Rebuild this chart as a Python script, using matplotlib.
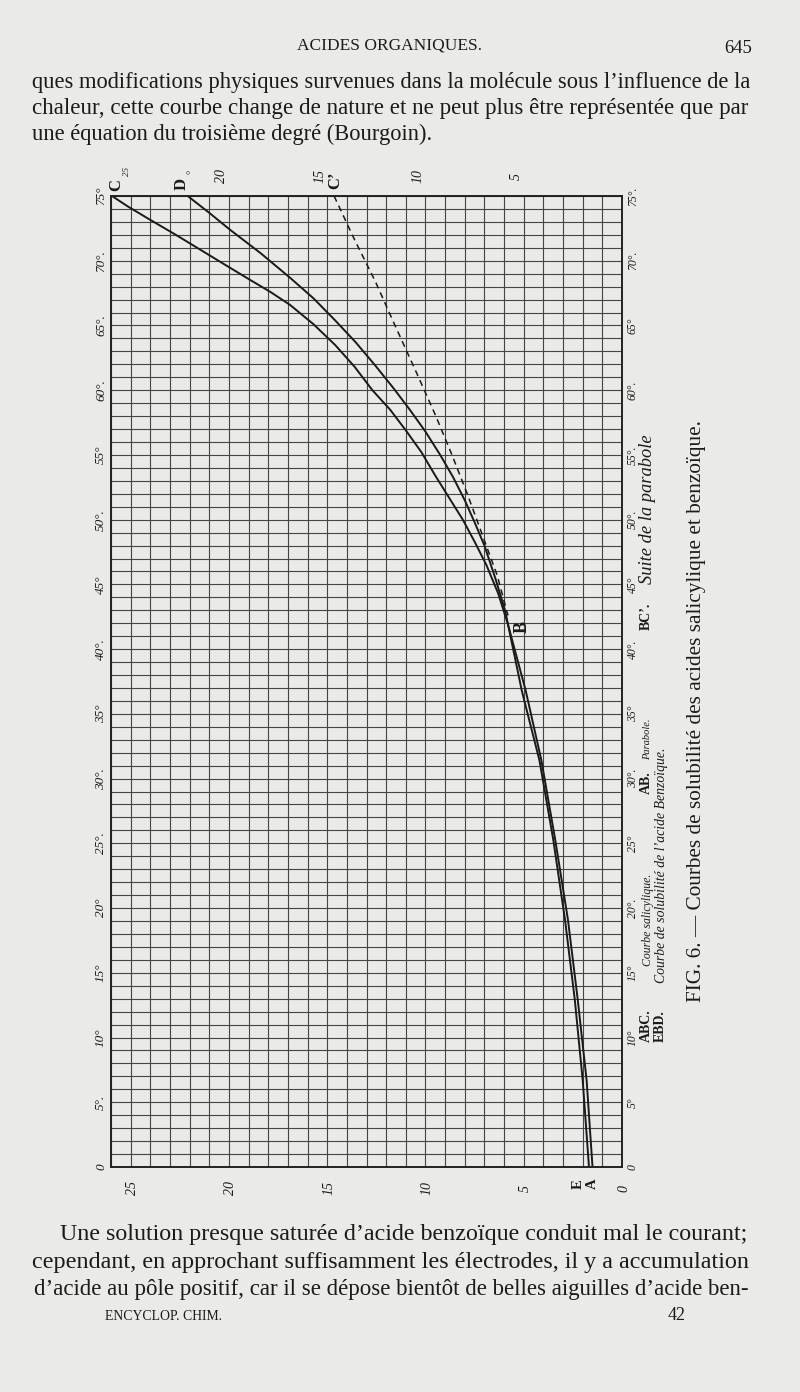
import numpy as np
import matplotlib
matplotlib.use("Agg")
import matplotlib.pyplot as plt
from matplotlib import transforms as mtransforms

# ---------------- data ----------------
temp_ticks = [0, 5, 10, 15, 20, 25, 30, 35, 40, 45, 50, 55, 60, 65, 70, 75]
temp_labels_left = ["0", "5°.", "10°", "15°", "20°", "25°.", "30°.", "35°", "40°.",
                    "45°", "50°.", "55°", "60°.", "65°.", "70°.", "75°"]
temp_labels_right = ["0", "5°", "10°", "15°", "20°.", "25°", "30°.", "35°", "40°.",
                     "45°", "50°.", "55°.", "60°.", "65°", "70°.", "75°."]
sol_ticks_bottom = [25, 20, 15, 10, 5, 0]
sol_labels_bottom = ["25", "20", "15", "10", "5", "0"]
sol_ticks_top = [20, 15, 10, 5]
sol_labels_top = ["20", "15", "10", "5"]

# ABC : salicylic acid curve (solubility, temperature °C)
abc_sol = [25.95, 25.15, 24.05, 22.7, 21.4, 20.1, 18.9, 17.9, 16.9, 15.7, 14.6, 13.6,
           12.7, 11.8, 11.0, 10.2, 9.5, 8.8, 8.1, 7.5, 6.9, 6.3, 5.8, 4.9, 4.1,
           3.4, 2.75, 2.25, 1.8, 1.5]
abc_temp = [75.0, 74.2, 73.2, 72.0, 70.8, 69.6, 68.5, 67.6, 66.6, 65.1, 63.5, 61.8,
            60.0, 58.5, 56.9, 55.2, 53.4, 51.7, 50.0, 48.3, 46.5, 44.3, 41.9, 36.8,
            31.4, 25.3, 19.1, 12.9, 6.7, 0.0]
# EBD : benzoic acid curve
ebd_sol = [22.1, 21.0, 19.95, 18.4, 16.9, 15.7, 14.6, 13.55, 12.55, 11.65, 10.8,
           10.0, 9.25, 8.6, 8.0, 7.5, 7.0, 6.45, 5.95, 5.1, 4.2, 3.5, 2.9, 2.4,
           2.0, 1.68]
ebd_temp = [75.0, 73.7, 72.4, 70.6, 68.7, 67.1, 65.4, 63.7, 61.9, 60.2, 58.5,
            56.8, 55.0, 53.3, 51.5, 49.8, 48.0, 45.5, 43.0, 36.8, 31.4, 25.3, 19.1,
            12.9, 6.7, 0.0]
# BC' : continuation of the parabola (dashed)
bc_sol = [14.65, 13.6, 12.55, 11.55, 10.5, 9.5, 8.65, 7.85, 7.1, 6.35, 5.8]
bc_temp = [75.0, 71.6, 68.4, 65.0, 61.5, 58.1, 55.0, 51.9, 48.8, 45.7, 42.6]

header = "ACIDES ORGANIQUES."
page_number = "645"
para_top = [
    "ques modifications physiques survenues dans la molécule sous l\u2019influence de la",
    "chaleur, cette courbe change de nature et ne peut plus être représentée que par",
    "une équation du troisième degré (Bourgoin).",
]
para_bottom = [
    "Une solution presque saturée d\u2019acide benzoïque conduit mal le courant;",
    "cependant, en approchant suffisamment les électrodes, il y a accumulation",
    "d\u2019acide au pôle positif, car il se dépose bientôt de belles aiguilles d\u2019acide ben-",
]
footer_left = "ENCYCLOP. CHIM."
footer_right = "42"
caption = "FIG. 6. \u2014 Courbes de solubilité des acides salicylique et benzoïque."

# ---------------- figure ----------------
W, H, DPI = 800, 1392, 100
BG = "#eaeae8"
INK = "#1b1b1b"
SERIF = ["Liberation Serif", "DejaVu Serif"]

fig = plt.figure(figsize=(W / DPI, H / DPI), dpi=DPI, facecolor=BG)
renderer = fig.canvas.get_renderer()


def P(x, y):
    return x / W, 1 - y / H


def put(x, y, s, size, length=None, rot=0, ha="left", va="baseline", **kw):
    kw.setdefault("family", SERIF)
    t = fig.text(*P(x, y), s, fontsize=size, rotation=rot, ha=ha, va=va,
                 color=INK, **kw)
    if length:
        bb = t.get_window_extent(renderer)
        cur = bb.height if rot == 90 else bb.width
        t.set_fontsize(size * length / cur)
    return t


# plot frame (pixels)
L, R, T, B = 111, 622, 196, 1167
ax = fig.add_axes([L / W, 1 - B / H, (R - L) / W, (B - T) / H])
ax.set_facecolor("none")
ax.set_xlim(26, 0)
ax.set_ylim(0, 75)
ax.set_xticks(np.arange(0, 27, 1))
ax.set_yticks(np.arange(0, 76, 1))
ax.tick_params(length=0, labelbottom=False, labelleft=False)
ax.grid(True, color="#454545", lw=0.8)
for sp in ax.spines.values():
    sp.set_color("#222222")
    sp.set_linewidth(1.4)

ax.plot(abc_sol, abc_temp, color="#1a1a1a", lw=1.4, solid_capstyle="round")
ax.plot(ebd_sol, ebd_temp, color="#1a1a1a", lw=1.4, solid_capstyle="round")
ax.plot(bc_sol, bc_temp, color="#1a1a1a", lw=1.1, ls=(0, (4, 3)))

# temperature labels
tl = mtransforms.blended_transform_factory(ax.transAxes, ax.transData)
for v, lab in zip(temp_ticks, temp_labels_left):
    ax.text((101 - L) / (R - L), v, lab, transform=tl, rotation=90, ha="center",
            va="center", fontsize=9.5, style="italic", family=SERIF, color=INK,
            clip_on=False)
for v, lab in zip(temp_ticks, temp_labels_right):
    ax.text((633 - L) / (R - L), v, lab, transform=tl, rotation=90, ha="center",
            va="center", fontsize=8.5, style="italic", family=SERIF, color=INK,
            clip_on=False)

# solubility labels
sb = mtransforms.blended_transform_factory(ax.transData, ax.transAxes)
for v, lab in zip(sol_ticks_bottom, sol_labels_bottom):
    ax.text(v, -(1188 - B) / (B - T), lab,
            transform=mtransforms.offset_copy(sb, fig, x=2, units="dots"),
            rotation=90, ha="center", va="center", fontsize=10, style="italic",
            family=SERIF, color=INK, clip_on=False)
for v, lab in zip(sol_ticks_top, sol_labels_top):
    ax.text(v, 1 + (T - 176) / (B - T), lab,
            transform=mtransforms.offset_copy(sb, fig, x=-7, units="dots"),
            rotation=90, ha="center", va="center", fontsize=10, style="italic",
            family=SERIF, color=INK, clip_on=False)

# curve letters
put(116, 185, "C", 12, rot=90, ha="center", va="center", weight="bold")
put(127, 172, "25", 6.5, rot=90, ha="center", va="center", style="italic")
put(182, 184, "D", 12, rot=90, ha="center", va="center", weight="bold")
put(192, 172, "°", 8, rot=90, ha="center", va="center")
put(335, 180, "C\u2019", 12, rot=90, ha="center", va="center", weight="bold")
put(522, 627, "B", 13, rot=90, ha="center", va="center", weight="bold")
put(578, 1184, "E", 10.5, rot=90, ha="center", va="center", weight="bold")
put(592, 1184, "A", 10.5, rot=90, ha="center", va="center", weight="bold")

# legend (rotated columns)
put(646, 1042, "ABC.", 10, rot=90, ha="center", va="bottom", weight="bold")
put(648, 966, "Courbe salicylique.", 8.5, rot=90, ha="center", va="bottom",
    style="italic")
put(646, 794, "AB.", 10, rot=90, ha="center", va="bottom", weight="bold")
put(648, 760, "Parabole.", 7.5, rot=90, ha="center", va="bottom",
    style="italic")
put(646, 630, "BC\u2019.", 10, rot=90, ha="center", va="bottom",
    weight="bold")
put(648, 584, "Suite de la parabole", 10, length=150, rot=90, ha="center",
    va="bottom", style="italic")
put(660, 1042, "EBD.", 10, rot=90, ha="center", va="bottom", weight="bold")
put(661, 983, "Courbe de solubilité de l\u2019acide Benzoïque.", 8.5, length=235,
    rot=90, ha="center", va="bottom", style="italic")
put(697, 1002, caption, 11, length=582, rot=90, ha="center", va="bottom")

# page text
put(297, 49, header, 11, length=184)
put(724, 53, page_number, 11, length=28)
put(32, 88, para_top[0], 14, length=722)
put(32, 114, para_top[1], 14, length=720)
put(32, 140, para_top[2], 14, length=402)
put(60, 1240, para_bottom[0], 14, length=690)
put(32, 1268, para_bottom[1], 14, length=720)
put(34, 1295, para_bottom[2], 14, length=716)
put(105, 1320, footer_left, 9, length=117)
put(668, 1320, footer_right, 11, length=18)

fig.savefig("out.png", dpi=DPI, facecolor=BG)
